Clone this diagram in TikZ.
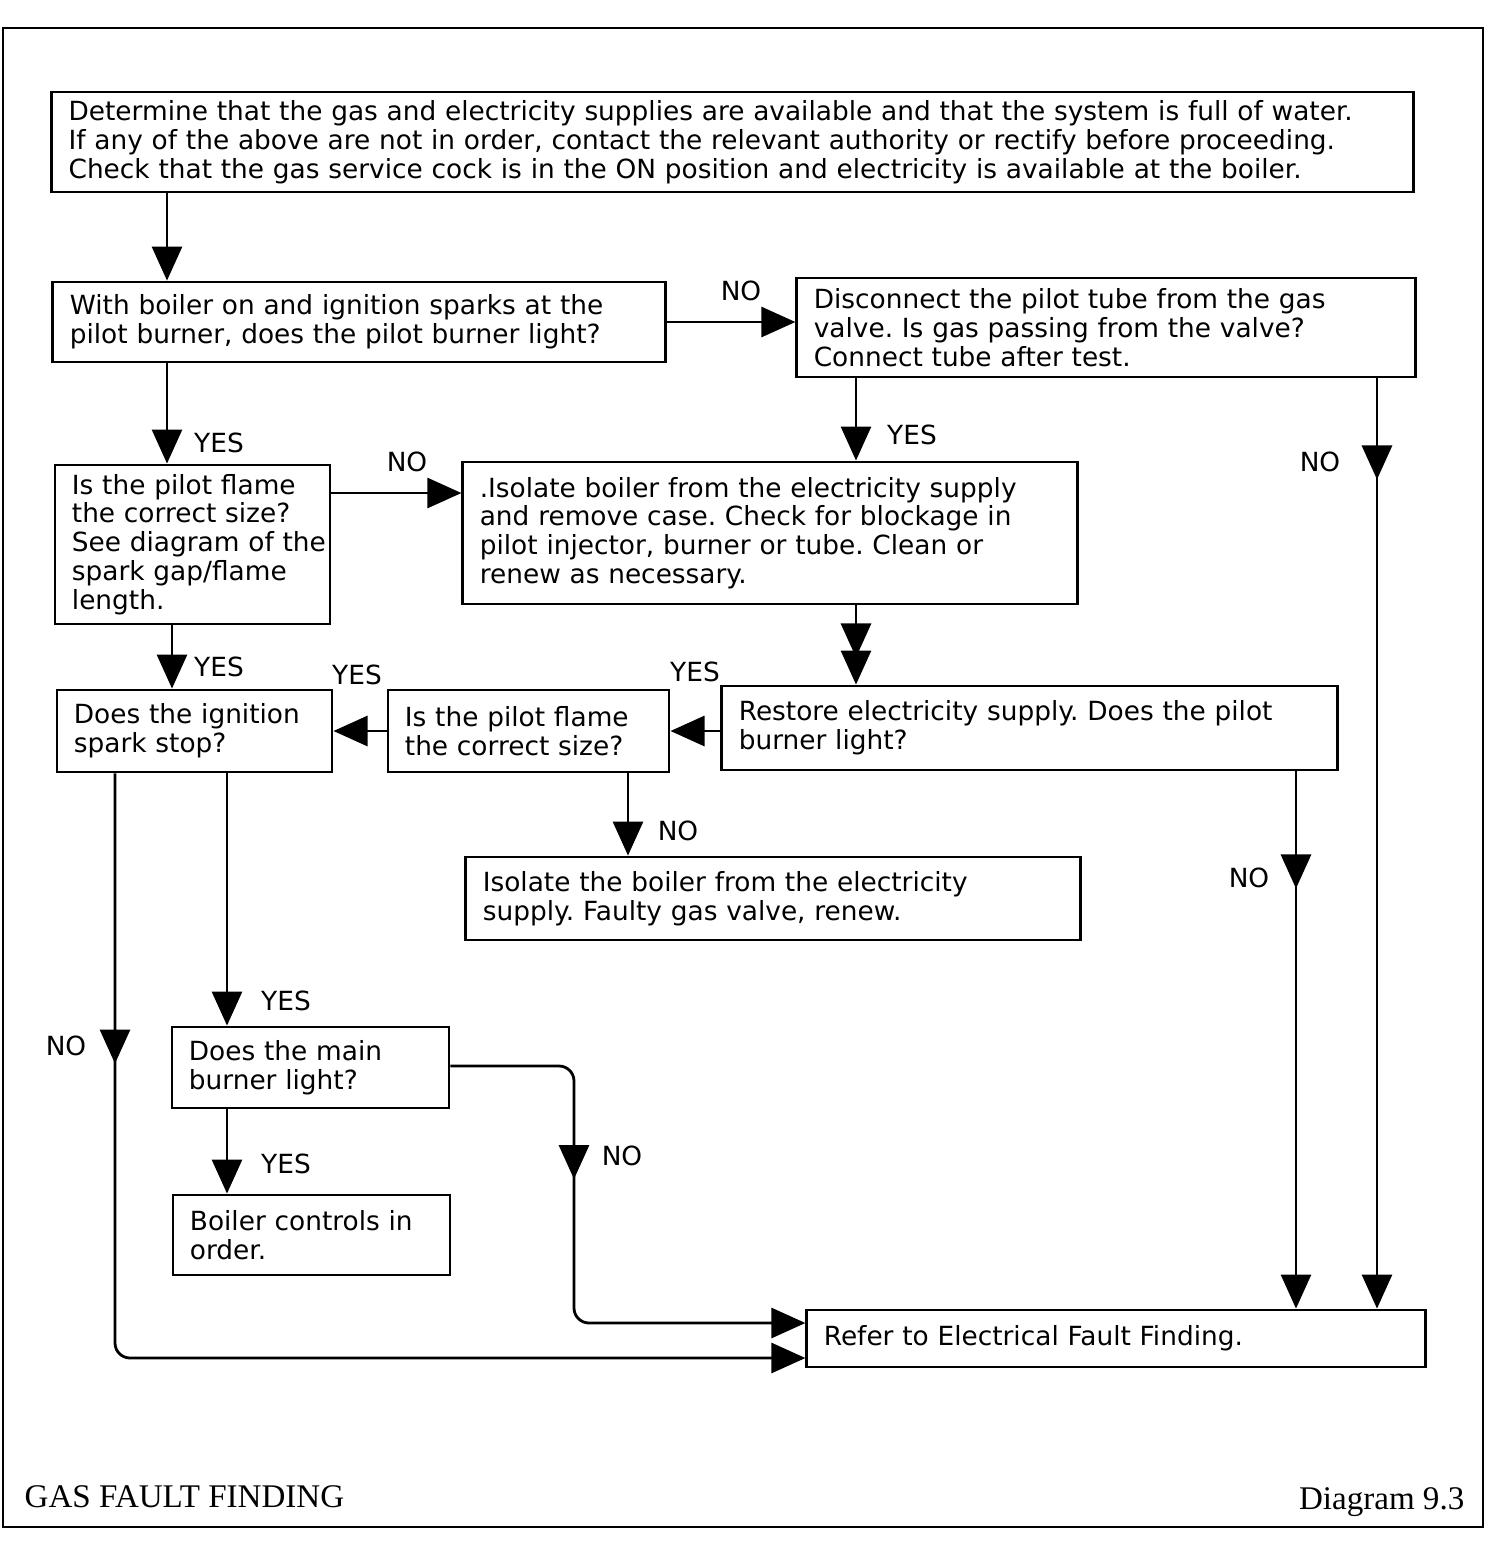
\documentclass[tikz,border=0pt]{standalone}
\usepackage{fontspec}
\newfontfamily\boxfont{DejaVu Sans}
\newfontfamily\titlefont{Liberation Serif}
\usetikzlibrary{arrows.meta,positioning,calc,decorations.markings}

\begin{document}
\begin{tikzpicture}[
    x=0.01cm, y=-0.01cm,
    every node/.style={font=\boxfont\fontsize{7.5}{8.2}\selectfont\frenchspacing},
    box/.style={draw, line width=0.8pt, align=left, inner xsep=0.17cm, inner ysep=0pt},
    lbl/.style={inner sep=0pt},
    heading/.style={font=\titlefont\fontsize{9.4}{11}\selectfont, inner sep=0pt},
    arr/.style={-{Triangle[length=0.34cm,width=0.3cm]}, line width=0.8pt},
    midtip/.style={postaction={decorate}, decoration={markings, mark=at position #1 with {\arrow{Triangle[length=0.34cm,width=0.3cm]}}}}
]
    \useasboundingbox (0,0) rectangle (1500,1547);
    \draw[line width=0.8pt] (3,28) rectangle (1483,1527);

    % boxes
    \node[box, minimum width=13.61cm, minimum height=1.00cm, text width=13.27cm] (init) at (732.5,142) {Determine that the gas and electricity supplies are available and that the system is full of water.\\ If any of the above are not in order, contact the relevant authority or rectify before proceeding.\\ Check that the gas service cock is in the ON position and electricity is available at the boiler.};
    \node[box, minimum width=6.12cm, minimum height=0.80cm, text width=5.78cm] (pilot) at (359,322) {With boiler on and ignition sparks at the\\ pilot burner, does the pilot burner light?};
    \node[box, minimum width=6.18cm, minimum height=0.99cm, text width=5.84cm] (tube) at (1106,327.5) {Disconnect the pilot tube from the gas\\ valve. Is gas passing from the valve?\\ Connect tube after test.};
    \node[box, minimum width=2.75cm, minimum height=1.59cm, text width=2.41cm] (flame) at (192.5,544.5) {Is the pilot flame\\ the correct size?\\ \mbox{See diagram of the}\\ spark gap/flame\\ length.};
    \node[box, minimum width=6.14cm, minimum height=1.42cm, text width=5.80cm] (block) at (770,533) {.Isolate boiler from the electricity supply\\ and remove case. Check for blockage in\\ pilot injector, burner or tube. Clean or\\ renew as necessary.};
    \node[box, minimum width=2.75cm, minimum height=0.82cm, text width=2.41cm] (spark) at (194.5,731) {Does the ignition\\ spark stop?};
    \node[box, minimum width=2.81cm, minimum height=0.82cm, text width=2.47cm] (size) at (528.5,731) {Is the pilot flame\\ the correct size?};
    \node[box, minimum width=6.15cm, minimum height=0.84cm, text width=5.81cm] (restore) at (1029.5,728) {Restore electricity supply. Does the pilot\\ burner light?};
    \node[box, minimum width=6.14cm, minimum height=0.83cm, text width=5.80cm] (valve) at (773,898.5) {Isolate the boiler from the electricity\\ supply. Faulty gas valve, renew.};
    \node[box, minimum width=2.77cm, minimum height=0.81cm, text width=2.43cm] (main) at (310.5,1067.5) {Does the main\\ burner light?};
    \node[box, minimum width=2.77cm, minimum height=0.80cm, text width=2.43cm] (order) at (311.5,1235) {Boiler controls in\\ order.};
    \node[box, minimum width=6.18cm, minimum height=0.57cm, text width=5.84cm] (elec) at (1116,1338.5) {Refer to Electrical Fault Finding.};

    % columns and rows for the connectors
    \coordinate (xa) at (167,0);
    \coordinate (xb) at (856,0);
    \coordinate (xc) at (1377,0);
    \coordinate (xd) at (1296,0);
    \coordinate (xe) at (628,0);
    \coordinate (xf) at (115,0);
    \coordinate (xg) at (227,0);
    \coordinate (xh) at (574,0);
    \coordinate (xi) at (172,0);
    \coordinate (ya) at (0,493);
    \coordinate (yb) at (0,1323);
    \coordinate (yc) at (0,1358);
    \coordinate (yd) at (0,1066);

    \draw[arr] (init.south -| xa) -- (pilot.north -| xa);
    \draw[arr] (pilot.east) -- (tube.west |- pilot.east);
    \draw[arr] (pilot.south -| xa) -- (flame.north -| xa);
    \draw[arr] (tube.south -| xb) -- (block.north -| xb);
    \draw[arr, midtip=1.01cm] (tube.south -| xc) -- (elec.north -| xc);
    \draw[arr] (flame.east |- ya) -- (block.west |- ya);
    \draw[arr] (flame.south -| xi) -- (spark.north -| xi);
    \draw[arr, midtip=0.52cm] (block.south -| xb) -- (restore.north -| xb);
    \draw[arr] (restore.west |- size.east) -- (size.east);
    \draw[arr] (size.west) -- (spark.east);
    \draw[arr] (size.south -| xe) -- (valve.north -| xe);
    \draw[arr, midtip=1.17cm] (restore.south -| xd) -- (elec.north -| xd);
    \draw[arr] (spark.south -| xg) -- (main.north -| xg);
    \draw[arr, midtip=2.9cm, rounded corners=0.15cm] (spark.south -| xf) -- (xf |- yc) -- (elec.west |- yc);
    \draw[arr] (main.south -| xg) -- (order.north -| xg);
    \draw[arr, midtip=2.3cm, rounded corners=0.15cm] (main.east |- yd) -- (xh |- yd) -- (xh |- yb) -- (elec.west |- yb);

    % labels
    \node[lbl] (no1) at (741,291) {NO};
    \node[lbl] (yes1) at (219,443) {YES};
    \node[lbl] (yes2) at (912,435) {YES};
    \node[lbl] (no2) at (1320,462) {NO};
    \node[lbl] (no3) at (407,462) {NO};
    \node[lbl] (yes3) at (219,667) {YES};
    \node[lbl] (yes4) at (357,675) {YES};
    \node[lbl] (yes5) at (695,672) {YES};
    \node[lbl] (no4) at (678,831) {NO};
    \node[lbl] (no5) at (1249,878) {NO};
    \node[lbl] (yes6) at (286,1001) {YES};
    \node[lbl] (no6) at (66,1046) {NO};
    \node[lbl] (yes7) at (286,1164) {YES};
    \node[lbl] (no7) at (622,1156) {NO};

    \node[heading, anchor=base west] (title) at (24,1507) {GAS FAULT FINDING};
    \node[heading, anchor=base east] (diag) at (1465,1509) {Diagram 9.3};
\end{tikzpicture}
\end{document}
